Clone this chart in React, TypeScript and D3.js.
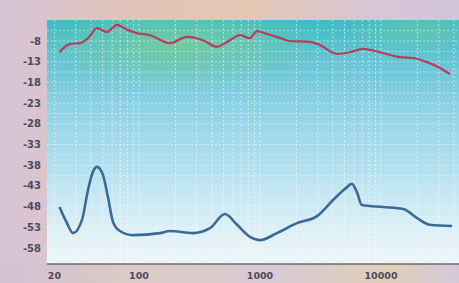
import React from 'react'
import * as d3 from 'd3'

const freqRed = [22, 27, 32.5, 38, 45, 54, 66, 80, 96, 123, 180, 250, 338, 441, 565, 684, 826, 944, 1143, 1381, 1770, 2590, 3135, 4330, 5540, 7100, 10400, 14400, 18400, 24000, 30700, 37200]
const dbRed = [-10.7, -8.7, -8.5, -7.3, -4.9, -5.8, -4.1, -5.3, -6.1, -6.6, -8.5, -7.0, -7.8, -9.4, -7.8, -6.6, -7.3, -5.6, -6.3, -7.0, -8.0, -8.2, -9.0, -11.1, -10.7, -9.9, -10.9, -11.9, -12.1, -13.1, -14.5, -16.0]

const freqBlue = [22, 25.4, 28.5, 33.8, 37.9, 41.6, 45, 50.4, 55.4, 61, 69.6, 89, 149, 180, 279, 386, 513, 646, 826, 1000, 1381, 2020, 2960, 4020, 5050, 5750, 6320, 6950, 10400, 15300, 19900, 25400, 38700]
const dbBlue = [-48.1, -52.0, -54.4, -51.2, -44.0, -39.6, -38.4, -40.4, -45.7, -51.7, -53.9, -54.9, -54.4, -53.9, -54.4, -53.2, -49.8, -52.4, -55.3, -56.1, -54.4, -52.0, -50.3, -46.4, -43.7, -42.5, -44.5, -47.6, -48.1, -48.6, -50.8, -52.4, -52.7]

const yTicks = [-8, -13, -18, -23, -28, -33, -38, -43, -48, -53, -58]
const xTicks = [20, 100, 1000, 10000]

export default function App() {
  const W = 459, H = 283
  const left = 47, top = 20, bottom = 264

  // log axis: 100 Hz at 139px, ~121px per decade
  const x = d3.scaleLog().domain([100, 10000]).range([139, 381])
  const y = d3.scaleLinear().domain([-8, -58]).range([41, 248])

  const line = d3.line<[number, number]>()
    .x(d => x(d[0]))
    .y(d => y(d[1]))
    .curve(d3.curveMonotoneX)

  const red = line(freqRed.map((f, i) => [f, dbRed[i]]))
  const blue = line(freqBlue.map((f, i) => [f, dbBlue[i]]))

  // minor log grid
  const vGrid: number[] = []
  for (let dec = 10; dec <= 10000; dec *= 10)
    for (let m = 1; m < 10; m++) {
      const px = x(dec * m)
      if (px > left && px < W) vGrid.push(px)
    }
  const hGrid = d3.range(-5.5, -61, -2.5).map(v => y(v)).filter(v => v > top && v < bottom)

  return (
    <svg width={W} height={H} style={{ position: 'fixed', top: 0, left: 0 }}>
      <defs>
        <linearGradient id="frame" x1="0" y1="0" x2="1" y2="0">
          <stop offset="0" stopColor="#d6c4d8" />
          <stop offset="0.3" stopColor="#e2c4b8" />
          <stop offset="0.55" stopColor="#e4c8b4" />
          <stop offset="0.8" stopColor="#d8c6d6" />
          <stop offset="1" stopColor="#d4c4dc" />
        </linearGradient>
        <linearGradient id="bottomBand" x1="0" y1="0" x2="1" y2="0">
          <stop offset="0" stopColor="#d2c0d4" />
          <stop offset="0.3" stopColor="#dccbc4" />
          <stop offset="0.6" stopColor="#d8cad4" />
          <stop offset="0.85" stopColor="#e0d0b8" />
          <stop offset="1" stopColor="#d4c8dc" />
        </linearGradient>
        <linearGradient id="plotBg" x1="0" y1="0" x2="0" y2="1">
          <stop offset="0" stopColor="#3ebcc4" />
          <stop offset="0.15" stopColor="#62c4d2" />
          <stop offset="0.35" stopColor="#8ed2e6" />
          <stop offset="0.6" stopColor="#b2e0f0" />
          <stop offset="0.85" stopColor="#dcf0f6" />
          <stop offset="1" stopColor="#eef6f6" />
        </linearGradient>
        <radialGradient id="greenGlow" cx="0.5" cy="0.5" r="0.5">
          <stop offset="0" stopColor="#78cc98" stopOpacity="0.85" />
          <stop offset="1" stopColor="#78cc98" stopOpacity="0" />
        </radialGradient>
        <radialGradient id="greenGlow2" cx="0.5" cy="0.5" r="0.5">
          <stop offset="0" stopColor="#6cc8a8" stopOpacity="0.7" />
          <stop offset="1" stopColor="#6cc8a8" stopOpacity="0" />
        </radialGradient>
        <clipPath id="plotClip">
          <rect x={left} y={top} width={W - left} height={bottom - top} />
        </clipPath>
      </defs>

      <rect x={0} y={0} width={W} height={H} fill="url(#frame)" />
      <rect x={0} y={bottom} width={W} height={H - bottom} fill="url(#bottomBand)" />

      <g clipPath="url(#plotClip)">
        <rect x={left} y={top} width={W - left} height={bottom - top} fill="url(#plotBg)" />
        <ellipse cx={180} cy={45} rx={140} ry={45} fill="url(#greenGlow)" />
        <ellipse cx={420} cy={30} rx={70} ry={25} fill="url(#greenGlow2)" />
        {vGrid.map((g, i) => (
          <line key={`v${i}`} x1={g} x2={g} y1={top} y2={bottom}
            stroke="#ffffff" strokeOpacity={0.55} strokeWidth={1} strokeDasharray="2,2" />
        ))}
        {hGrid.map((g, i) => (
          <line key={`h${i}`} x1={left} x2={W} y1={g} y2={g}
            stroke="#ffffff" strokeOpacity={0.45} strokeWidth={1} strokeDasharray="2,2" />
        ))}
        <path d={blue || ''} fill="none" stroke="#3c6a98" strokeWidth={2.6} strokeLinejoin="round" />
        <path d={red || ''} fill="none" stroke="#b83c5c" strokeWidth={2.2} strokeLinejoin="round" />
      </g>

      <line x1={left} x2={W} y1={bottom} y2={bottom} stroke="#6a6a74" strokeWidth={1.5} />

      {yTicks.map(t => (
        <text key={t} x={41} y={y(t)} dy="0.35em" textAnchor="end"
          fontFamily="DejaVu Sans" fontSize={10} fontWeight="bold" fill="#4e4a5c">{t}</text>
      ))}
      {xTicks.map(t => (
        <text key={t} x={x(t)} y={279} textAnchor="middle"
          fontFamily="DejaVu Sans" fontSize={9.5} fontWeight="bold" fill="#4e4a5c">{t}</text>
      ))}
    </svg>
  )
}
